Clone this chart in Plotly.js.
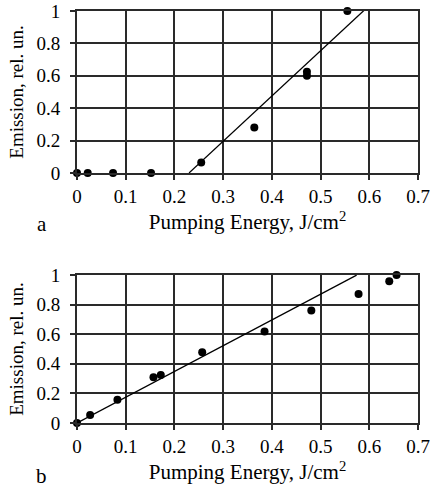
<!DOCTYPE html>
<html>
<head>
<meta charset="utf-8">
<script src="https://cdn.plot.ly/plotly-3.0.1.min.js"></script>
<style>
  html, body { margin: 0; padding: 0; background: #fff; }
  #chart { width: 430px; height: 489px; }
</style>
</head>
<body>
<div id="chart"></div>
<script>
// Panel a: emission vs pumping energy, threshold behaviour
const energyA = [0, 0.022, 0.074, 0.152, 0.255, 0.364, 0.472, 0.472, 0.555];
const emissionA = [0, 0, 0, 0, 0.064, 0.28, 0.625, 0.60, 1.0];
const fitEnergyA = [0.23, 0.595];
const fitEmissionA = [0, 1.02];

// Panel b: emission vs pumping energy, near-linear growth
const energyB = [0, 0.027, 0.083, 0.157, 0.172, 0.257, 0.385, 0.481, 0.578, 0.641, 0.656];
const emissionB = [0, 0.054, 0.158, 0.309, 0.324, 0.478, 0.619, 0.761, 0.872, 0.959, 1.0];
const fitEnergyB = [0, 0.574];
const fitEmissionB = [0, 1.0];

const panelLabels = ['a', 'b'];
const xTitle = 'Pumping Energy, J/cm<sup>2</sup>';
const yTitle = 'Emission, rel. un.';

const serif = 'Liberation Serif';

const pointStyle = { color: '#000', size: 8 };
const fitStyle = { color: '#000', width: 1.3 };
const ink = '#2a2a2a';

const traces = [
  { x: energyA, y: emissionA, xaxis: 'x', yaxis: 'y', mode: 'markers',
    marker: pointStyle, cliponaxis: false },
  { x: fitEnergyA, y: fitEmissionA, xaxis: 'x', yaxis: 'y', mode: 'lines',
    line: fitStyle },
  { x: energyB, y: emissionB, xaxis: 'x2', yaxis: 'y2', mode: 'markers',
    marker: pointStyle, cliponaxis: false },
  { x: fitEnergyB, y: fitEmissionB, xaxis: 'x2', yaxis: 'y2', mode: 'lines',
    line: fitStyle }
];

function xAxis(anchor, standoff) {
  return {
    anchor: anchor, domain: [0, 1], range: [0, 0.7], dtick: 0.1, tick0: 0,
    showgrid: true, gridcolor: ink, gridwidth: 2,
    showline: true, linecolor: ink, linewidth: 2, mirror: true,
    ticks: 'outside', ticklen: 5, tickcolor: ink, tickwidth: 2,
    zeroline: false, fixedrange: true,
    tickfont: { family: serif, size: 19, color: '#000' },
    title: { text: xTitle, standoff: standoff,
             font: { family: serif, size: 21, color: '#000' } }
  };
}

function yAxis(anchor, domain) {
  return {
    anchor: anchor, domain: domain, range: [0, 1], dtick: 0.2, tick0: 0,
    showgrid: true, gridcolor: ink, gridwidth: 2,
    showline: true, linecolor: ink, linewidth: 2, mirror: true,
    ticks: 'outside', ticklen: 5, tickcolor: ink, tickwidth: 2,
    ticklabelstandoff: 6,
    zeroline: false, fixedrange: true,
    tickfont: { family: serif, size: 19, color: '#000' },
    title: { text: yTitle, standoff: 8,
             font: { family: serif, size: 19, color: '#000' } }
  };
}

const layout = {
  width: 430, height: 489,
  margin: { l: 77, r: 12, t: 11, b: 66 },
  paper_bgcolor: '#fff', plot_bgcolor: '#fff',
  showlegend: false,
  font: { family: serif, size: 19, color: '#000' },
  xaxis: xAxis('y', 9),
  yaxis: yAxis('x', [0.607, 1]),
  xaxis2: xAxis('y2', 9),
  yaxis2: yAxis('x2', [0, 0.359]),
  annotations: [
    { text: panelLabels[0], xref: 'paper', yref: 'paper', x: -0.103, y: 0.484,
      xanchor: 'center', yanchor: 'middle', showarrow: false,
      font: { family: serif, size: 21, color: '#000' } },
    { text: panelLabels[1], xref: 'paper', yref: 'paper', x: -0.103, y: -0.128,
      xanchor: 'center', yanchor: 'middle', showarrow: false,
      font: { family: serif, size: 21, color: '#000' } }
  ]
};

Plotly.newPlot('chart', traces, layout, { displayModeBar: false });
</script>
</body>
</html>
